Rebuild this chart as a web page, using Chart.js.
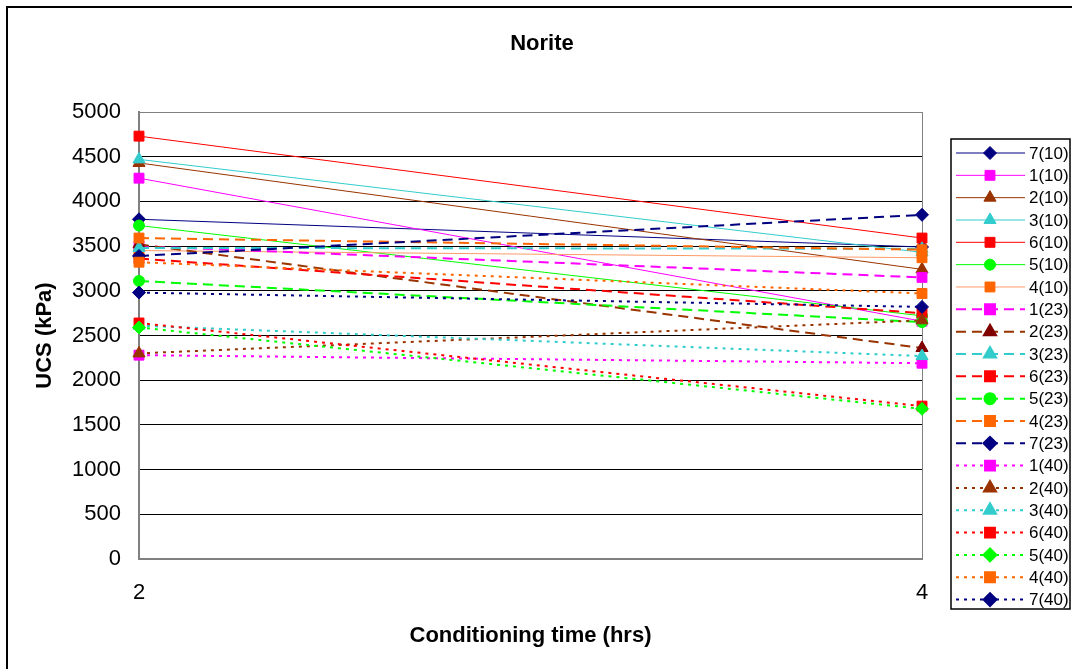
<!DOCTYPE html>
<html>
<head>
<meta charset="utf-8">
<script src="https://cdn.jsdelivr.net/npm/chart.js@4.4.0/dist/chart.umd.min.js"></script>
<style>
  html, body { margin: 0; padding: 0; background: #fff; }
  #wrap { width: 1072px; height: 669px; }
</style>
</head>
<body>
<div id="wrap"><canvas id="ucsChart" width="1072" height="669"></canvas></div>
<script>
// conditioning time (hrs) on the x axis
const hours = [2, 4];
// sample(temperature) names, in legend order
const samples = ['7(10)', '1(10)', '2(10)', '3(10)', '6(10)', '5(10)', '4(10)',
  '1(23)', '2(23)', '3(23)', '6(23)', '5(23)', '4(23)', '7(23)',
  '1(40)', '2(40)', '3(40)', '6(40)', '5(40)', '4(40)', '7(40)'];
// UCS (kPa) after 2 hrs and after 4 hrs
const ucs2h = [3800, 4260, 4430, 4470, 4730, 3730, 3450,
  3500, 3520, 3480, 3360, 3110, 3590, 3390,
  2280, 2300, 2610, 2640, 2590, 3320, 2980];
const ucs4h = [3490, 2660, 3240, 3430, 3590, 2720, 3370,
  3150, 2360, 3470, 2750, 2650, 3460, 3850,
  2190, 2670, 2270, 1710, 1680, 2970, 2820];
const yTicks = [0, 500, 1000, 1500, 2000, 2500, 3000, 3500, 4000, 4500, 5000];

// look per sample number
const sampleColor = { '1': '#ff00ff', '2': '#993300', '3': '#33cccc', '4': '#ff6600', '5': '#00ff00', '6': '#ff0000', '7': '#000080' };
const sampleMarker = { '1': 'rect', '2': 'triangle', '3': 'triangle', '4': 'rect', '5': 'circle', '6': 'rect', '7': 'rectRot' };
const markerSize = { rect: 7, triangle: 7, circle: 5.5, rectRot: 6.5 };

const FONT = "'Liberation Sans', Arial, sans-serif";

function makeDataset(name, i) {
  const num = name[0];
  const temp = name.slice(2, 4);
  let line = sampleColor[num];
  let marker = sampleColor[num];
  let style = sampleMarker[num];
  if (num === '4' && temp === '10') line = '#ff9966';
  if (num === '2' && temp === '23') marker = '#800000';
  if (num === '5' && temp === '40') style = 'rectRot';

  let dash = [];
  let width = 1;
  if (temp === '23') { dash = [10, 6]; width = 2; }
  if (temp === '40') { dash = [3, 5]; width = 2; }

  return {
    label: name,
    data: hours.map((h, k) => ({ x: h, y: k === 0 ? ucs2h[i] : ucs4h[i] })),
    borderColor: line,
    borderWidth: width,
    borderDash: dash,
    pointStyle: style,
    pointRadius: markerSize[style],
    pointBackgroundColor: marker,
    pointBorderColor: marker,
    pointBorderWidth: 1,
    tension: 0,
    clip: false,
    // excel puts later series on top
    order: samples.length - i
  };
}

// title, outer frame and the boxed legend
const extras = {
  id: 'extras',
  afterDraw(chart) {
    const ctx = chart.ctx;
    ctx.save();
    ctx.strokeStyle = '#000';
    ctx.lineWidth = 2;
    ctx.strokeRect(7, 7, 1080, 680);

    ctx.fillStyle = '#000';
    ctx.font = 'bold 22px ' + FONT;
    ctx.textAlign = 'center';
    ctx.textBaseline = 'middle';
    ctx.fillText('Norite', 542, 44);

    // legend box
    const box = { left: 951, top: 139, right: 1070, bottom: 609 };
    ctx.fillStyle = '#fff';
    ctx.fillRect(box.left, box.top, box.right - box.left, box.bottom - box.top);
    ctx.lineWidth = 1.5;
    ctx.strokeStyle = '#000';
    ctx.strokeRect(box.left, box.top, box.right - box.left, box.bottom - box.top);

    chart.data.datasets.forEach((ds, i) => {
      const y = box.top + 14 + i * 22.33;
      ctx.strokeStyle = ds.borderColor;
      ctx.lineWidth = ds.borderWidth;
      ctx.setLineDash(ds.borderDash);
      ctx.beginPath();
      ctx.moveTo(956, y);
      ctx.lineTo(1025, y);
      ctx.stroke();
      ctx.setLineDash([]);
      ctx.fillStyle = ds.pointBackgroundColor;
      ctx.strokeStyle = ds.pointBorderColor;
      Chart.helpers.drawPoint(ctx, { pointStyle: ds.pointStyle, radius: ds.pointRadius, rotation: 0, borderWidth: 1 }, 990, y);
      ctx.fillStyle = '#000';
      ctx.font = "17px 'Liberation Sans Narrow', 'Arial Narrow', " + FONT;
      ctx.textAlign = 'left';
      ctx.textBaseline = 'middle';
      ctx.fillText(ds.label, 1029, y + 1);
    });
    ctx.restore();
  }
};

new Chart(document.getElementById('ucsChart'), {
  type: 'line',
  data: { datasets: samples.map(makeDataset) },
  options: {
    responsive: false,
    animation: false,
    layout: { padding: { left: 0, top: 112, right: 150, bottom: 0 } },
    plugins: { legend: { display: false }, title: { display: false }, tooltip: { enabled: false } },
    scales: {
      x: {
        type: 'linear',
        min: hours[0],
        max: hours[hours.length - 1],
        afterBuildTicks: (s) => { s.ticks = hours.map(v => ({ value: v })); },
        afterFit: (s) => { s.height = 110; },
        grid: { color: '#808080', lineWidth: 1, drawTicks: false },
        border: { color: '#808080', width: 2 },
        ticks: { color: '#000', padding: 21, font: { family: FONT, size: 22 }, callback: (v) => String(v) },
        title: { display: true, text: 'Conditioning time (hrs)', color: '#000', padding: { top: 0, bottom: 20 }, font: { family: FONT, size: 22, weight: 'bold' } }
      },
      y: {
        min: yTicks[0],
        max: yTicks[yTicks.length - 1],
        afterBuildTicks: (s) => { s.ticks = yTicks.map(v => ({ value: v })); },
        afterFit: (s) => { s.width = 139; },
        grid: { color: (c) => c.tick && c.tick.value === 5000 ? '#808080' : '#000', lineWidth: 1, drawTicks: false },
        border: { color: '#808080', width: 2 },
        ticks: { color: '#000', padding: 18, font: { family: FONT, size: 22 }, callback: (v) => String(v) },
        title: { display: true, text: 'UCS (kPa)', color: '#000', padding: { top: 32, bottom: 0 }, font: { family: FONT, size: 22, weight: 'bold' } }
      }
    }
  },
  plugins: [extras]
});
</script>
</body>
</html>
